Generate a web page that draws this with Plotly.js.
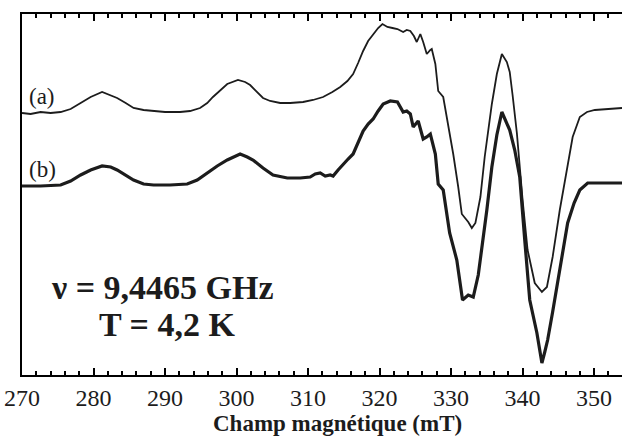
<!DOCTYPE html>
<html>
<head>
<meta charset="utf-8">
<script src="https://cdn.plot.ly/plotly-3.0.1.min.js"></script>
<style>html,body{margin:0;padding:0;background:#fff;}#chart{width:622px;height:437px;}</style>
</head>
<body>
<div id="chart"></div>
<script>
// Champ magnétique (mT) and intensité (unités arbitraires), spectre (a)
const fieldA = [270.0,271.2,272.6,274.0,275.4,276.8,278.2,279.6,281.2,282.4,283.3,284.5,285.6,287.0,288.4,290.0,292.1,293.5,294.9,295.9,296.7,297.7,298.7,300.2,301.2,301.9,302.9,303.7,304.7,306.1,307.5,309.3,310.7,312.1,313.4,314.5,315.5,316.3,317.0,317.7,318.4,319.1,319.8,320.4,321.1,321.8,322.5,323.3,323.8,324.3,324.8,325.2,325.7,326.1,326.6,327.1,327.3,327.8,328.2,328.9,329.6,330.3,331.0,331.5,332.4,332.9,333.4,334.1,334.7,335.4,335.7,336.4,337.1,337.8,338.2,338.6,339.2,340.0,340.7,341.7,342.7,343.4,344.2,345.2,346.2,347.0,348.0,349.0,350.1,351.5,353.9];
const signalA = [262,261,263,262,263,266,272,278,283,280,277,272,267,265,264,263,263,264,267,272,278,285,291,295,293,290,283,277,274,272,272,273,275,278,283,288,294,301,312,324,334,341,347,351,348,347,346,343,345,344,339,333,341,333,321,325,326,311,284,278,251,221,188,161,153,147,152,178,218,258,271,301,321,313,303,280,242,175,125,92,83,88,118,165,208,238,258,263,265,266,267];

// spectre (b)
const fieldB = [270.0,272.6,275.4,276.8,278.2,279.6,281.2,282.4,283.3,284.5,285.6,287.0,288.4,290.7,293.1,294.5,295.9,297.3,298.7,299.8,300.5,301.5,302.3,303.7,305.1,307.1,308.9,310.3,311.0,311.7,312.4,313.1,313.5,314.2,314.9,315.6,316.3,317.0,317.7,318.4,319.1,319.8,320.5,321.5,322.5,323.3,323.8,324.3,324.7,325.4,326.1,326.6,327.1,327.8,328.2,328.9,329.4,329.8,330.8,331.2,331.6,332.4,333.1,333.8,334.3,335.0,335.7,336.4,337.1,337.7,338.2,338.9,339.6,340.3,341.0,342.0,342.7,343.1,343.5,344.2,344.8,345.5,346.3,347.2,348.0,349.1,350.8,353.9];
const signalB = [189,189,190,194,200,205,209,208,205,200,195,191,190,190,191,195,202,209,215,219,221,218,215,207,200,197,197,198,201,202,199,200,199,205,211,216,221,232,244,251,256,264,271,274,273,263,264,261,248,254,236,238,241,221,191,185,161,142,115,95,75,80,78,100,125,165,208,240,263,253,245,225,198,135,75,42,12,23,35,63,88,120,152,172,185,192,192,192];

const xRange = [270, 353.9];
const xMajorStep = 10;
const xMinorStep = 2;

const ink = '#000000';
const serif = 'Liberation Serif, Times New Roman, serif';

const traces = [
  {x: fieldA, y: signalA, type: 'scatter', mode: 'lines', line: {color: '#1c1c1c', width: 1.8}, hoverinfo: 'skip'},
  {x: fieldB, y: signalB, type: 'scatter', mode: 'lines', line: {color: '#1c1c1c', width: 3.2}, hoverinfo: 'skip'},
  {x: [xRange[0]], y: [0], xaxis: 'x2', type: 'scatter', mode: 'markers', marker: {opacity: 0}, hoverinfo: 'skip'}
];

function px2paperY(py) { return (375 - py) / 361; }
function px2paperX(px) { return (px - 22) / 600; }

const layout = {
  width: 622, height: 437,
  margin: {l: 22, r: 0, t: 14, b: 62},
  showlegend: false,
  hovermode: false,
  xaxis: {
    range: xRange, showgrid: false, zeroline: false,
    showline: true, linecolor: ink, linewidth: 2, mirror: 'allticks',
    ticks: 'inside', ticklen: 7, tickwidth: 2, tickcolor: ink,
    tick0: xRange[0], dtick: xMajorStep,
    tickfont: {family: serif, size: 24, color: '#1c1c1c'}
  },
  xaxis2: {
    range: xRange, overlaying: 'x', side: 'bottom', anchor: 'y',
    showgrid: false, zeroline: false, showline: false, mirror: 'allticks',
    ticks: 'inside', ticklen: 4, tickwidth: 2, tickcolor: ink,
    tick0: xRange[0], dtick: xMinorStep,
    showticklabels: false
  },
  yaxis: {
    range: [0, 361], showgrid: false, zeroline: false,
    showline: true, linecolor: ink, linewidth: 2,
    showticklabels: false
  },
  annotations: [
    {text: '(a)', xref: 'paper', yref: 'paper', x: px2paperX(27), y: px2paperY(96), xanchor: 'left', yanchor: 'middle', showarrow: false, font: {family: serif, size: 23, color: '#1c1c1c'}},
    {text: '(b)', xref: 'paper', yref: 'paper', x: px2paperX(27), y: px2paperY(169), xanchor: 'left', yanchor: 'middle', showarrow: false, font: {family: serif, size: 23, color: '#1c1c1c'}},
    {text: '<b>ν = 9,4465 GHz</b>', xref: 'paper', yref: 'paper', x: px2paperX(162), y: px2paperY(287), xanchor: 'center', yanchor: 'middle', showarrow: false, font: {family: serif, size: 34, color: '#1c1c1c'}},
    {text: '<b>T = 4,2 K</b>', xref: 'paper', yref: 'paper', x: px2paperX(167), y: px2paperY(324), xanchor: 'center', yanchor: 'middle', showarrow: false, font: {family: serif, size: 34, color: '#1c1c1c'}},
    {text: '<b>Champ magnétique (mT)</b>', xref: 'paper', yref: 'paper', x: px2paperX(338), y: px2paperY(423), xanchor: 'center', yanchor: 'middle', showarrow: false, font: {family: serif, size: 23, color: '#1c1c1c'}}
  ]
};

Plotly.newPlot('chart', traces, layout, {displayModeBar: false});
</script>
</body>
</html>
